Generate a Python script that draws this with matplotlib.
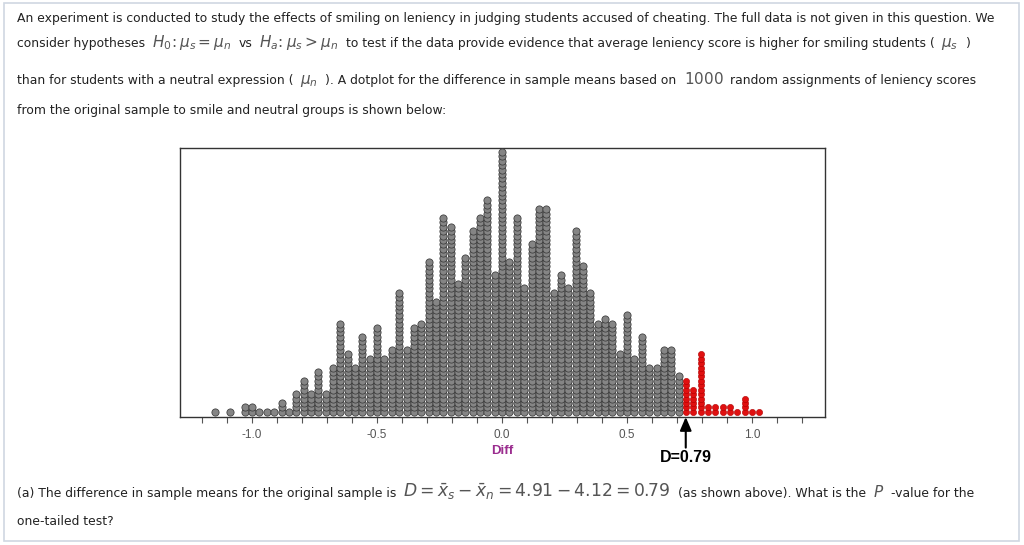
import numpy as np
import matplotlib.pyplot as plt
from matplotlib.patches import Rectangle
from matplotlib.ticker import FixedLocator, FuncFormatter

# dotplot of Diff (difference in sample means), 1000 random assignments
diff_bins = [-1.147, -1.118, -1.088, -1.059, -1.029, -1.000, -0.971, -0.941,
             -0.912, -0.882, -0.853, -0.824, -0.794, -0.765, -0.735, -0.706,
             -0.676, -0.647, -0.618, -0.588, -0.559, -0.529, -0.500, -0.471,
             -0.441, -0.412, -0.382, -0.353, -0.324, -0.294, -0.265, -0.235,
             -0.206, -0.176, -0.147, -0.118, -0.088, -0.059, -0.029, 0.000,
             0.029, 0.059, 0.088, 0.118, 0.147, 0.176, 0.206, 0.235,
             0.265, 0.294, 0.324, 0.353, 0.382, 0.412, 0.441, 0.471,
             0.500, 0.529, 0.559, 0.588, 0.618, 0.647, 0.676, 0.706,
             0.735, 0.765, 0.794, 0.824, 0.853, 0.882, 0.912, 0.941,
             0.971, 1.000, 1.029]
dot_counts = [1, 0, 1, 0, 2, 2, 1, 1, 1, 3, 1, 5, 8, 5, 10, 5,
              11, 21, 14, 11, 18, 13, 20, 13, 15, 28, 15, 20, 21, 35,
              26, 45, 43, 30, 36, 42, 45, 49, 32, 60,
              35, 45, 29, 39, 47, 47, 28, 32, 29, 42, 34, 28,
              21, 22, 21, 14, 23, 13, 18, 11, 11, 15, 15, 9,
              8, 6, 14, 2, 2, 2, 2, 1, 4, 1, 1]
red_start = 0.735      # where the upper tail (red dots) begins, arrow position
d_label = "D=0.79"
tick_pos = [-1.0, -0.5, 0.0, 0.5, 1.0]
tick_labels = ["-1.0", "-0.5", "0.0", "0.5", "1.0"]

W, H = 1024, 545
fig = plt.figure(figsize=(W / 100, H / 100), dpi=100)
fig.patch.set_facecolor("white")
fig.patches.append(Rectangle((4 / W, 4 / H), 1015 / W, 538 / H, transform=fig.transFigure,
                             fill=False, edgecolor="#cfd7e2", lw=1.2))

# ---- dotplot ----
ax = fig.add_axes([180 / W, 1 - 417 / H, 645 / W, 269 / H])
gx, gy, rx, ry = [], [], [], []
for x, n in zip(diff_bins, dot_counts):
    for i in range(n):
        if x >= red_start - 1e-6:
            rx.append(x); ry.append(i)
        else:
            gx.append(x); gy.append(i)
ax.scatter(gx, gy, s=27, c="#858585", edgecolors="#3a3a3a", linewidths=0.55, zorder=3)
ax.scatter(rx, ry, s=20, c="#e01010", edgecolors="#b00000", linewidths=0.4, zorder=3)

ax.set_xlim(-1.288, 1.292)
ax.set_ylim(-1.2, 59.9)
ax.set_yticks([])
ax.xaxis.set_major_locator(FixedLocator(np.round(np.arange(-1.2, 1.21, 0.1), 1)))
lab = dict(zip(tick_pos, tick_labels))
ax.xaxis.set_major_formatter(FuncFormatter(lambda v, p: lab.get(round(v, 1), "")))
ax.tick_params(axis="x", direction="out", length=4.5, width=0.8, color="#555555",
               labelsize=8.5, labelcolor="#555555", pad=4)
for lb in ax.get_xticklabels():
    lb.set_family("Liberation Sans")
for sp in ax.spines.values():
    sp.set_color("#333333")
    sp.set_linewidth(1.0)

ax.text(0.0, -0.127, "Diff", transform=ax.get_xaxis_transform(), ha="center", va="center",
        color="#9b2d8f", fontsize=9.5, fontweight="bold", family="Liberation Sans")
ax.annotate(d_label, xy=(red_start, -1.2), xycoords="data",
            xytext=(red_start, -0.152), textcoords=ax.get_xaxis_transform(),
            ha="center", va="center", fontsize=11.5, fontweight="bold",
            family="Liberation Sans", color="black",
            arrowprops=dict(arrowstyle="-|>,head_length=0.7,head_width=0.3",
                            color="black", lw=1.5, shrinkA=0, shrinkB=0))

# ---- question text ----
fig.canvas.draw()
r = fig.canvas.get_renderer()
TXT = dict(fontsize=8.9, color="#222222", family="DejaVu Sans")
MATH = dict(fontsize=11, color="#555555")
MATH_BIG = dict(fontsize=12.3, color="#555555")


def line(y, pieces, x=17, gap=7):
    for s, kind in pieces:
        kw = {"m": MATH, "M": MATH_BIG}.get(kind, TXT)
        t = fig.text(x / W, 1 - y / H, s, va="baseline", ha="left", **kw)
        bb = t.get_window_extent(r)
        x = bb.x1 + gap


line(22, [("An experiment is conducted to study the effects of smiling on leniency in judging "
           "students accused of cheating. The full data is not given in this question. We", "t")])
line(47, [("consider hypotheses", "t"), (r"$H_0\!:\mu_s=\mu_n$", "m"), ("vs", "t"),
          (r"$H_a\!:\mu_s>\mu_n$", "m"),
          ("to test if the data provide evidence that average leniency score is higher "
           "for smiling students (", "t"), (r"$\mu_s$", "m"), (")", "t")])
line(84, [("than for students with a neutral expression (", "t"), (r"$\mu_n$", "m"),
          ("). A dotplot for the difference in sample means based on", "t"), (r"$1000$", "m"),
          ("random assignments of leniency scores", "t")])
line(114, [("from the original sample to smile and neutral groups is shown below:", "t")])
line(497, [("(a) The difference in sample means for the original sample is", "t"),
           (r"$D=\bar{x}_s-\bar{x}_n=4.91-4.12=0.79$", "M"),
           ("(as shown above). What is the", "t"), (r"$P$", "m"), ("-value for the", "t")])
line(525, [("one-tailed test?", "t")])

fig.savefig("out.png", dpi=100, facecolor="white")
